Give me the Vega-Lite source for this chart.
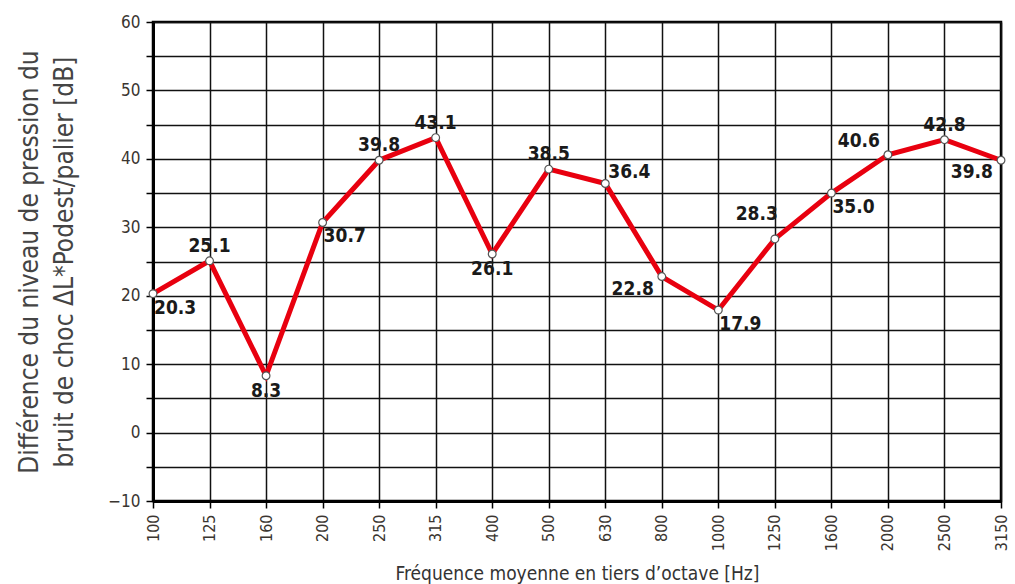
{
  "$schema": "https://vega.github.io/schema/vega-lite/v6.json",
  "width": 848,
  "height": 479,
  "autosize": "none",
  "padding": {"left": 153, "top": 22, "right": 14, "bottom": 83},
  "background": "white",
  "config": {
    "view": {"stroke": "black", "strokeWidth": 2.5},
    "font": "DejaVu Sans Condensed"
  },
  "data": {
    "values": [
      {"freq": "100", "value": 20.3},
      {"freq": "125", "value": 25.1},
      {"freq": "160", "value": 8.3},
      {"freq": "200", "value": 30.7},
      {"freq": "250", "value": 39.8},
      {"freq": "315", "value": 43.1},
      {"freq": "400", "value": 26.1},
      {"freq": "500", "value": 38.5},
      {"freq": "630", "value": 36.4},
      {"freq": "800", "value": 22.8},
      {"freq": "1000", "value": 17.9},
      {"freq": "1250", "value": 28.3},
      {"freq": "1600", "value": 35.0},
      {"freq": "2000", "value": 40.6},
      {"freq": "2500", "value": 42.8},
      {"freq": "3150", "value": 39.8}
    ]
  },
  "encoding": {
    "x": {
      "field": "freq", "type": "ordinal", "sort": null,
      "scale": {"type": "point", "padding": 0},
      "axis": {
        "title": "Fréquence moyenne en tiers d’octave [Hz]",
        "titleFont": "DejaVu Sans Condensed", "titleFontSize": 19, "titleFontWeight": "normal", "titleColor": "#333333",
        "titlePadding": 14,
        "labelAngle": -90, "labelAlign": "right", "labelBaseline": "middle",
        "labelFont": "DejaVu Sans Condensed", "labelFontSize": 16, "labelColor": "#3a3530", "labelPadding": 6,
        "grid": true, "gridColor": "#111111", "gridWidth": 1.5, "gridOpacity": 1,
        "domainColor": "black", "domainWidth": 3,
        "tickColor": "black", "tickWidth": 1.5, "tickSize": 7
      }
    },
    "y": {
      "field": "value", "type": "quantitative",
      "scale": {"domain": [-10, 60], "nice": false, "zero": false},
      "axis": {
        "values": [-10, -5, 0, 5, 10, 15, 20, 25, 30, 35, 40, 45, 50, 55, 60],
        "labelExpr": "datum.value % 10 === 0 ? datum.label : ''",
        "title": ["Différence du niveau de pression du", "bruit de choc ΔL*Podest/palier [dB]"],
        "titleFont": "DejaVu Sans Condensed", "titleFontSize": 26, "titleFontWeight": "normal", "titleColor": "#444444",
        "titleLineHeight": 35, "titlePadding": 30,
        "labelFont": "DejaVu Sans Condensed", "labelFontSize": 17, "labelColor": "#3a3530", "labelPadding": 6,
        "grid": true, "gridColor": "#111111", "gridWidth": 1.5, "gridOpacity": 1,
        "domainColor": "black", "domainWidth": 3,
        "tickColor": "black", "tickWidth": 1.5, "tickSize": 7
      }
    }
  },
  "layer": [
    {"mark": {"type": "line", "color": "#e8000f", "strokeWidth": 5}},
    {"mark": {"type": "point", "filled": true, "fill": "white", "stroke": "#555555", "strokeWidth": 1.2, "size": 60, "opacity": 1}},
    {
      "transform": [{"filter": {"field": "freq", "oneOf": ["125", "250", "315", "500", "2500"]}}],
      "mark": {"type": "text", "align": "center", "baseline": "bottom", "dy": -5, "fontSize": 19, "fontWeight": "bold", "color": "#1a1a1a"},
      "encoding": {"text": {"field": "value", "type": "quantitative", "format": ".1f"}}
    },
    {
      "transform": [{"filter": {"field": "freq", "oneOf": ["160", "400"]}}],
      "mark": {"type": "text", "align": "center", "baseline": "top", "dy": 6, "fontSize": 19, "fontWeight": "bold", "color": "#1a1a1a"},
      "encoding": {"text": {"field": "value", "type": "quantitative", "format": ".1f"}}
    },
    {
      "transform": [{"filter": {"field": "freq", "oneOf": ["100", "200", "1000", "1600"]}}],
      "mark": {"type": "text", "align": "left", "baseline": "top", "dx": 1, "dy": 5, "fontSize": 19, "fontWeight": "bold", "color": "#1a1a1a"},
      "encoding": {"text": {"field": "value", "type": "quantitative", "format": ".1f"}}
    },
    {
      "transform": [{"filter": {"field": "freq", "oneOf": ["630"]}}],
      "mark": {"type": "text", "align": "left", "baseline": "bottom", "dx": 3, "dy": -1, "fontSize": 19, "fontWeight": "bold", "color": "#1a1a1a"},
      "encoding": {"text": {"field": "value", "type": "quantitative", "format": ".1f"}}
    },
    {
      "transform": [{"filter": {"field": "freq", "oneOf": ["800", "3150"]}}],
      "mark": {"type": "text", "align": "right", "baseline": "top", "dx": -8, "dy": 3, "fontSize": 19, "fontWeight": "bold", "color": "#1a1a1a"},
      "encoding": {"text": {"field": "value", "type": "quantitative", "format": ".1f"}}
    },
    {
      "transform": [{"filter": {"field": "freq", "oneOf": ["1250"]}}],
      "mark": {"type": "text", "align": "right", "baseline": "bottom", "dx": 3, "dy": -15, "fontSize": 19, "fontWeight": "bold", "color": "#1a1a1a"},
      "encoding": {"text": {"field": "value", "type": "quantitative", "format": ".1f"}}
    },
    {
      "transform": [{"filter": {"field": "freq", "oneOf": ["2000"]}}],
      "mark": {"type": "text", "align": "right", "baseline": "bottom", "dx": -8, "dy": -4, "fontSize": 19, "fontWeight": "bold", "color": "#1a1a1a"},
      "encoding": {"text": {"field": "value", "type": "quantitative", "format": ".1f"}}
    }
  ]
}
